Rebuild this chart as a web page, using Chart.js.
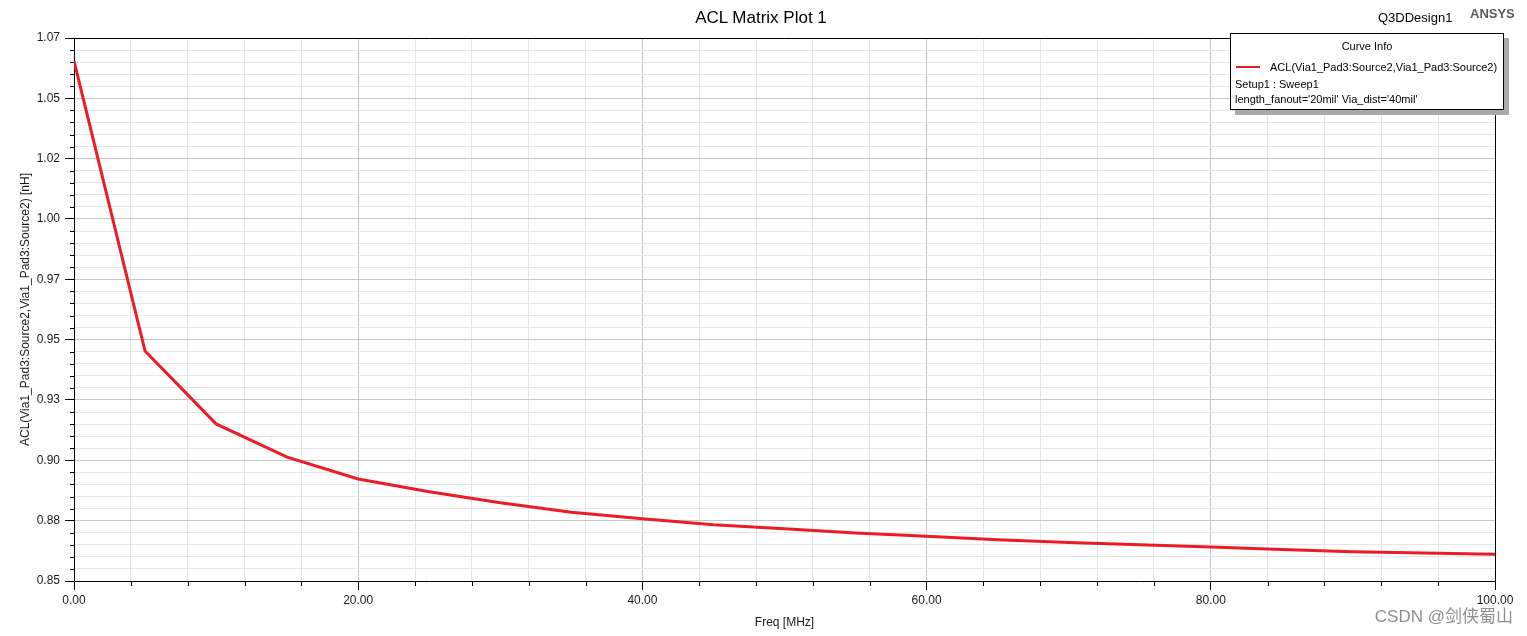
<!DOCTYPE html>
<html>
<head>
<meta charset="utf-8">
<script src="https://cdn.jsdelivr.net/npm/chart.js@4/dist/chart.umd.min.js"></script>
<style>
  html, body { margin: 0; padding: 0; background: #fff; overflow: hidden; }
  #wrap { position: relative; width: 1527px; height: 636px; font-family: "Liberation Sans", Arial, sans-serif; }
  #wrap canvas { position: absolute; left: 0; top: 0; }
  .txt { position: absolute; white-space: nowrap; line-height: 1; }
  #title { left: 0; width: 1522px; top: 9px; text-align: center; font-size: 17px; color: #000; }
  #design { left: 1378px; top: 11px; font-size: 13px; color: #000; }
  #ansys { left: 1470px; top: 7px; font-size: 13px; font-weight: bold; color: #5a5a5a; }
  #legend { position: absolute; left: 1230px; top: 33px; width: 272px; height: 75px; background: #fff;
            border: 1px solid #000; box-shadow: 5px 5px 0 #a8a8a8; font-size: 11px; color: #000; }
  #legend .head { position: absolute; left: 0; width: 100%; top: 7px; text-align: center; }
  #legend .swatch { position: absolute; left: 5px; top: 32px; width: 24px; height: 2px; }
  #legend .name { position: absolute; left: 39px; top: 28px; }
  #legend .setup { position: absolute; left: 4px; top: 45px; }
  #legend .vars { position: absolute; left: 4px; top: 60px; }
  #mark { right: 14px; top: 608px; font-size: 17px; color: #8f8f8f; font-family: "Liberation Sans", "Noto Sans CJK SC", sans-serif; }
</style>
</head>
<body>
<div id="wrap">
  <canvas id="myChart"></canvas>
  <div class="txt" id="title">ACL Matrix Plot 1</div>
  <div class="txt" id="design">Q3DDesign1</div>
  <div class="txt" id="ansys">ANSYS</div>
  <div id="legend">
    <div class="txt head">Curve Info</div>
    <div class="swatch" id="swatch"></div>
    <div class="txt name">ACL(Via1_Pad3:Source2,Via1_Pad3:Source2)</div>
    <div class="txt setup">Setup1 : Sweep1</div>
    <div class="txt vars">length_fanout='20mil' Via_dist='40mil'</div>
  </div>
  <div class="txt" id="mark">CSDN @剑侠蜀山</div>
</div>
<script>
// sweep points
const freqMHz = [0, 5, 10, 15, 20, 25, 30, 35, 40, 45, 50,
                 55, 60, 65, 70, 75, 80, 85, 90, 95, 100];
const aclNH = [1.0655, 0.9453, 0.9151, 0.9013, 0.8923, 0.8870, 0.8824, 0.8785, 0.8758, 0.8733, 0.8717,
               0.8699, 0.8685, 0.8671, 0.8660, 0.8650, 0.8641, 0.8631, 0.8621, 0.8616, 0.8611];

// axis ticks: one label every fifth tick, the rest are minor
const xTickValues = [0, 4, 8, 12, 16, 20, 24, 28, 32, 36, 40, 44, 48, 52,
                     56, 60, 64, 68, 72, 76, 80, 84, 88, 92, 96, 100];
const xMajorLabels = ['0.00', '20.00', '40.00', '60.00', '80.00', '100.00'];
const yTickValues = [0.850, 0.855, 0.860, 0.865, 0.870, 0.875, 0.880, 0.885, 0.890, 0.895,
                     0.900, 0.905, 0.910, 0.915, 0.920, 0.925, 0.930, 0.935, 0.940, 0.945,
                     0.950, 0.955, 0.960, 0.965, 0.970, 0.975, 0.980, 0.985, 0.990, 0.995,
                     1.000, 1.005, 1.010, 1.015, 1.020, 1.025, 1.030, 1.035, 1.040, 1.045,
                     1.050, 1.055, 1.060, 1.065, 1.070, 1.075];
const yMajorLabels = ['0.85', '0.88', '0.90', '0.93', '0.95', '0.97', '1.00', '1.02', '1.05', '1.07'];

const curveColor = '#ed1c24';
const fontFamily = '"Liberation Sans", Arial, sans-serif';
document.getElementById('swatch').style.background = curveColor;

const gridColor = (c) => (c.index % 5 === 0 ? '#c6c6c6' : '#e6e6e6');
const tickColor = (c) => (c.index % 5 === 0 ? '#000' : 'rgba(0,0,0,0)');

// short ticks for the minor grid and the top/right frame
const frame = {
  id: 'frame',
  afterDraw(chart) {
    const { ctx, chartArea: a, scales: { x, y } } = chart;
    ctx.save();
    ctx.strokeStyle = '#000';
    ctx.lineWidth = 1;
    ctx.beginPath();
    x.ticks.forEach((t, i) => {
      if (i % 5) {
        const px = Math.round(x.getPixelForValue(t.value)) + 0.5;
        ctx.moveTo(px, a.bottom);
        ctx.lineTo(px, a.bottom + 5);
      }
    });
    y.ticks.forEach((t, i) => {
      if (i % 5) {
        const py = Math.round(y.getPixelForValue(t.value)) + 0.5;
        ctx.moveTo(a.left, py);
        ctx.lineTo(a.left - 4, py);
      }
    });
    const top = Math.round(a.top) + 0.5;
    const right = Math.round(a.right) + 0.5;
    ctx.moveTo(a.left, top);
    ctx.lineTo(right, top);
    ctx.lineTo(right, a.bottom);
    ctx.stroke();
    ctx.restore();
  }
};

const canvas = document.getElementById('myChart');
canvas.width = 1527;
canvas.height = 636;
canvas.style.width = '1527px';
canvas.style.height = '636px';

new Chart(canvas.getContext('2d'), {
  type: 'line',
  data: {
    datasets: [{
      label: 'ACL(Via1_Pad3:Source2,Via1_Pad3:Source2)',
      data: freqMHz.map((f, i) => ({ x: f, y: aclNH[i] })),
      borderColor: curveColor,
      backgroundColor: curveColor,
      borderWidth: 3,
      pointRadius: 0,
      tension: 0,
      fill: false
    }]
  },
  options: {
    responsive: false,
    animation: false,
    layout: { padding: { left: 14, right: 32, top: 38, bottom: 2 } },
    plugins: {
      legend: { display: false },
      title: { display: false },
      tooltip: { enabled: false }
    },
    scales: {
      x: {
        type: 'linear',
        min: 0,
        max: 100,
        afterBuildTicks: (s) => { s.ticks = xTickValues.map(v => ({ value: v })); },
        afterFit: (s) => { s.height = 53; },
        ticks: {
          autoSkip: false,
          maxRotation: 0,
          padding: 3,
          color: '#1a1a1a',
          font: { family: fontFamily, size: 12 },
          callback: (v, i) => (i % 5 === 0 ? xMajorLabels[i / 5] : '')
        },
        grid: { color: gridColor, tickColor: tickColor, tickLength: 9, lineWidth: 1 },
        border: { display: true, color: '#000', width: 1 },
        title: {
          display: true,
          text: 'Freq [MHz]',
          color: '#1a1a1a',
          font: { family: fontFamily, size: 12 },
          padding: { top: 4, bottom: 4 }
        }
      },
      y: {
        type: 'linear',
        min: 0.85,
        max: 1.075,
        afterBuildTicks: (s) => { s.ticks = yTickValues.map(v => ({ value: v })); },
        afterFit: (s) => { s.width = 60; },
        ticks: {
          autoSkip: false,
          padding: 5,
          color: '#1a1a1a',
          font: { family: fontFamily, size: 12 },
          callback: (v, i) => (i % 5 === 0 ? yMajorLabels[i / 5] : '')
        },
        grid: { color: gridColor, tickColor: tickColor, tickLength: 9, lineWidth: 1 },
        border: { display: true, color: '#000', width: 1 },
        title: {
          display: true,
          text: 'ACL(Via1_Pad3:Source2,Via1_Pad3:Source2) [nH]',
          color: '#1a1a1a',
          font: { family: fontFamily, size: 12 },
          padding: { top: 4, bottom: 4 }
        }
      }
    }
  },
  plugins: [frame]
});
</script>
</body>
</html>
